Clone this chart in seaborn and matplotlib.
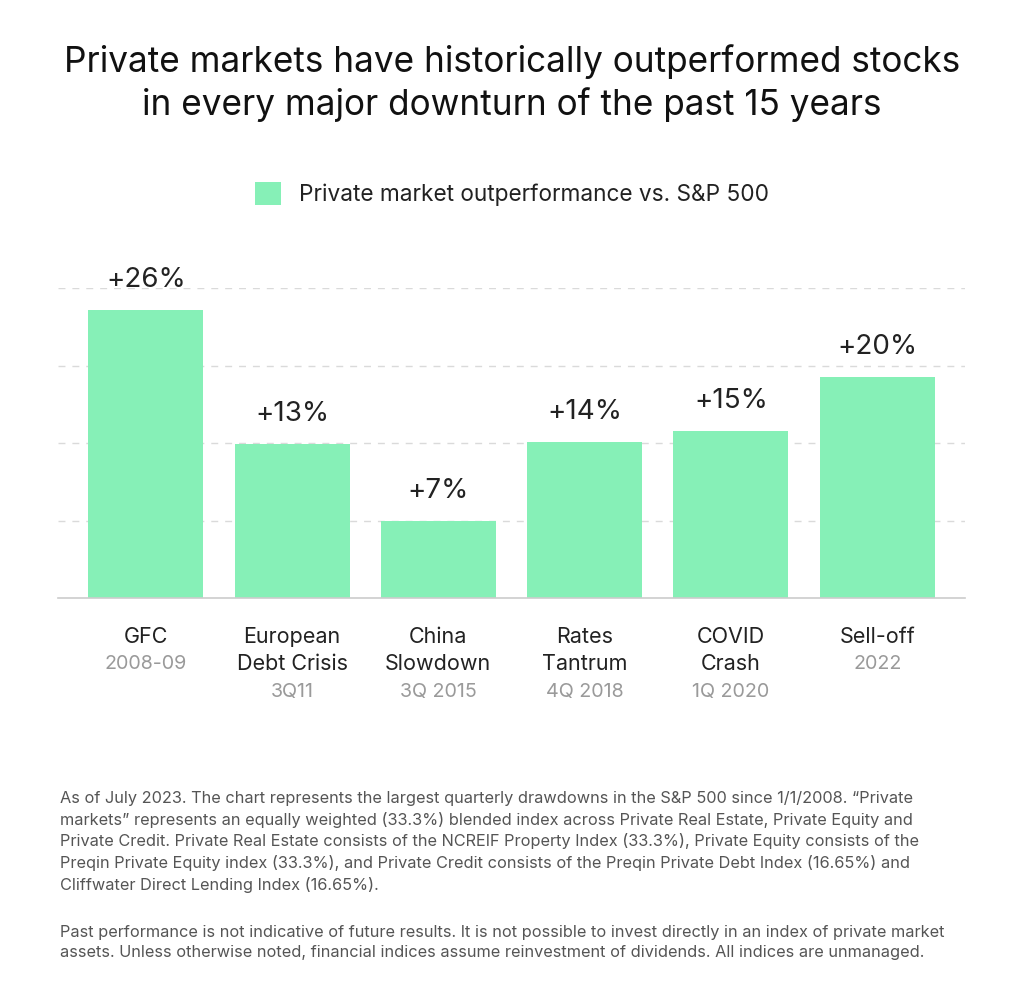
import matplotlib
matplotlib.use("Agg")
import matplotlib.pyplot as plt
from matplotlib.patches import Patch
import seaborn as sns
import pandas as pd

events = ["GFC", "European\nDebt Crisis", "China\nSlowdown", "Rates\nTantrum", "COVID\nCrash", "Sell-off"]
periods = ["2008-09", "3Q11", "3Q 2015", "4Q 2018", "1Q 2020", "2022"]
values = [26.0, 13.9, 7.0, 14.1, 15.1, 20.0]
value_labels = ["+26%", "+13%", "+7%", "+14%", "+15%", "+20%"]
grid_ticks = [7, 14, 21, 28]

title = "Private markets have historically outperformed stocks\nin every major downturn of the past 15 years"
legend_label = "Private market outperformance vs. S&P 500"
note1 = ("As of July 2023. The chart represents the largest quarterly drawdowns in the S&P 500 since 1/1/2008. \u201cPrivate\n"
         "markets\u201d represents an equally weighted (33.3%) blended index across Private Real Estate, Private Equity and\n"
         "Private Credit. Private Real Estate consists of the NCREIF Property Index (33.3%), Private Equity consists of the\n"
         "Preqin Private Equity index (33.3%), and Private Credit consists of the Preqin Private Debt Index (16.65%) and\n"
         "Cliffwater Direct Lending Index (16.65%).")
note2 = ("Past performance is not indicative of future results. It is not possible to invest directly in an index of private market\n"
         "assets. Unless otherwise noted, financial indices assume reinvestment of dividends. All indices are unmanaged.")

sns.set_theme(style="white")
plt.rcParams["font.family"] = ["Inter", "DejaVu Sans"]

BAR = "#86F0B7"
DARK = "#222222"
GREY = "#9a9a9a"

df = pd.DataFrame({"event": events, "value": values})

fig = plt.figure(figsize=(10.24, 9.9), dpi=100)
ax = fig.add_axes([58 / 1024, 1 - 598 / 990, (965 - 58) / 1024, (598 - 288) / 990])

sns.barplot(data=df, x="event", y="value", color=BAR, width=0.786, ax=ax,
            saturation=1, edgecolor="none", linewidth=0, zorder=3)

ax.set_xlim(-0.6, len(events) - 0.4)
ax.set_ylim(0, 28)
ax.set_yticks(grid_ticks)
ax.yaxis.grid(True, color="#dadada", linestyle=(0, (5, 5)), linewidth=1.0, zorder=0)
ax.tick_params(axis="y", left=False, labelleft=False)
ax.tick_params(axis="x", bottom=False, labelbottom=False)
ax.set_xlabel("")
ax.set_ylabel("")
for s in ["top", "right", "left"]:
    ax.spines[s].set_visible(False)
ax.spines["bottom"].set_color("#cccccc")
ax.spines["bottom"].set_linewidth(1.2)
ax.spines["bottom"].set_zorder(4)

ax.bar_label(ax.containers[0], labels=value_labels, padding=12, fontsize=20, color=DARK)

# category labels
for i, (name, per) in enumerate(zip(events, periods)):
    lines = name.split("\n")
    for j, ln in enumerate(lines):
        ax.annotate(ln, xy=(i, 0), xycoords=("data", "axes fraction"),
                    xytext=(0, -28 - 19.8 * j), textcoords="offset points",
                    ha="center", va="center", fontsize=15.5, color=DARK)
    ax.annotate(per, xy=(i, 0), xycoords=("data", "axes fraction"),
                xytext=(0, -28 - 19.8 * len(lines)), textcoords="offset points",
                ha="center", va="center", fontsize=14.2, color=GREY)

fig.text(0.5, 1 - 83 / 990, title, ha="center", va="center", fontsize=25.3,
         color="#111111", linespacing=1.3)

handle = Patch(facecolor=BAR, edgecolor="none")
fig.legend([handle], [legend_label], loc="center", bbox_to_anchor=(0.5, 1 - 194 / 990),
           frameon=False, fontsize=16.3, handlelength=1.15, handleheight=1.15,
           handletextpad=0.8, labelcolor="#222222")

fig.text(60 / 1024, 1 - 791 / 990, note1, ha="left", va="top", fontsize=11.75,
         color="#555555", linespacing=1.44)
fig.text(60 / 1024, 1 - 925 / 990, note2, ha="left", va="top", fontsize=11.75,
         color="#555555", linespacing=1.44)

fig.savefig("out.png", dpi=100, facecolor="white")
